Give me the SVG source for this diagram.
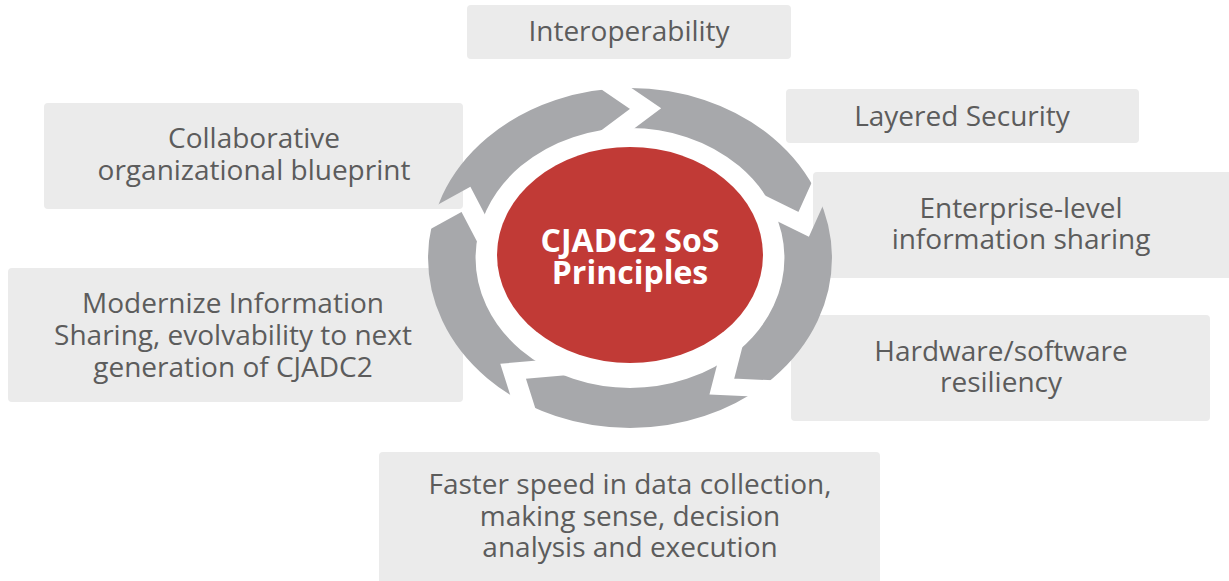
<svg xmlns="http://www.w3.org/2000/svg" width="1229" height="581" viewBox="0 0 1229 581">
  <style>
    .box { fill: #ebebeb; }
    .lbl { font-family: "Open Sans", "Liberation Sans", sans-serif; font-size: 28px; fill: #5c5c5c; text-anchor: middle; }
    .hub { font-family: "Open Sans", "Liberation Sans", sans-serif; font-size: 32px; font-weight: bold; fill: #ffffff; text-anchor: middle; }
    .cut { fill: none; stroke: #000; stroke-width: 17; stroke-linejoin: miter; stroke-miterlimit: 10; }
  </style>
  <defs>
    <!-- chevron-shaped breaks that split the ring into five clockwise arrows -->
    <mask id="ring-cuts" maskUnits="userSpaceOnUse" x="-250" y="-250" width="500" height="500">
      <rect x="-250" y="-250" width="500" height="500" fill="#fff"/>
      <polyline class="cut" points="134.9,131.5 77.3,128.6 88.6,76.4"/>
      <polyline class="cut" points="-83.5,169.0 -98.4,113.2 -45.3,107.8"/>
      <polyline class="cut" points="-186.3,-27.1 -138.1,-58.6 -116.5,-9.6"/>
      <polyline class="cut" points="-31.9,-185.8 13.1,-149.4 -26.9,-113.9"/>
      <polyline class="cut" points="166.7,-87.7 146.2,-33.7 99.9,-60.7"/>
    </mask>
  </defs>
  <rect width="1229" height="581" fill="#ffffff"/>

  <g id="node-interoperability">
    <rect class="box" x="467" y="5" width="324" height="54" rx="4"/>
    <text class="lbl" x="629" y="41">Interoperability</text>
  </g>
  <g id="node-layered-security">
    <rect class="box" x="786" y="89" width="353" height="54" rx="4"/>
    <text class="lbl" x="962" y="126">Layered Security</text>
  </g>
  <g id="node-collaborative">
    <rect class="box" x="44" y="103" width="419" height="106" rx="4"/>
    <text class="lbl" x="254" y="148">Collaborative</text>
    <text class="lbl" x="254" y="180">organizational blueprint</text>
  </g>
  <g id="node-enterprise">
    <rect class="box" x="813" y="172" width="425" height="106" rx="4"/>
    <text class="lbl" x="1021" y="218">Enterprise-level</text>
    <text class="lbl" x="1021" y="249">information sharing</text>
  </g>
  <g id="node-modernize">
    <rect class="box" x="8" y="268" width="455" height="134" rx="4"/>
    <text class="lbl" x="233" y="313">Modernize Information</text>
    <text class="lbl" x="233" y="345">Sharing, evolvability to next</text>
    <text class="lbl" x="233" y="377">generation of CJADC2</text>
  </g>
  <g id="node-hardware">
    <rect class="box" x="791" y="315" width="419" height="106" rx="4"/>
    <text class="lbl" x="1001" y="361">Hardware/software</text>
    <text class="lbl" x="1001" y="392">resiliency</text>
  </g>
  <g id="node-faster">
    <rect class="box" x="379" y="452" width="501" height="140" rx="4"/>
    <text class="lbl" x="630" y="494">Faster speed in data collection,</text>
    <text class="lbl" x="630" y="526">making sense, decision</text>
    <text class="lbl" x="630" y="557">analysis and execution</text>
  </g>

  <!-- cycle of arrows around the hub -->
  <g id="connectors" transform="translate(630,258) scale(1.188,1)">
    <circle cx="0" cy="0" r="150" fill="none" stroke="#a7a8ab" stroke-width="40" mask="url(#ring-cuts)"/>
  </g>

  <g id="node-hub">
    <ellipse cx="630" cy="255" rx="133" ry="108" fill="#c13a36"/>
    <text class="hub" x="630" y="252">CJADC2 SoS</text>
    <text class="hub" x="630" y="284">Principles</text>
  </g>
</svg>
